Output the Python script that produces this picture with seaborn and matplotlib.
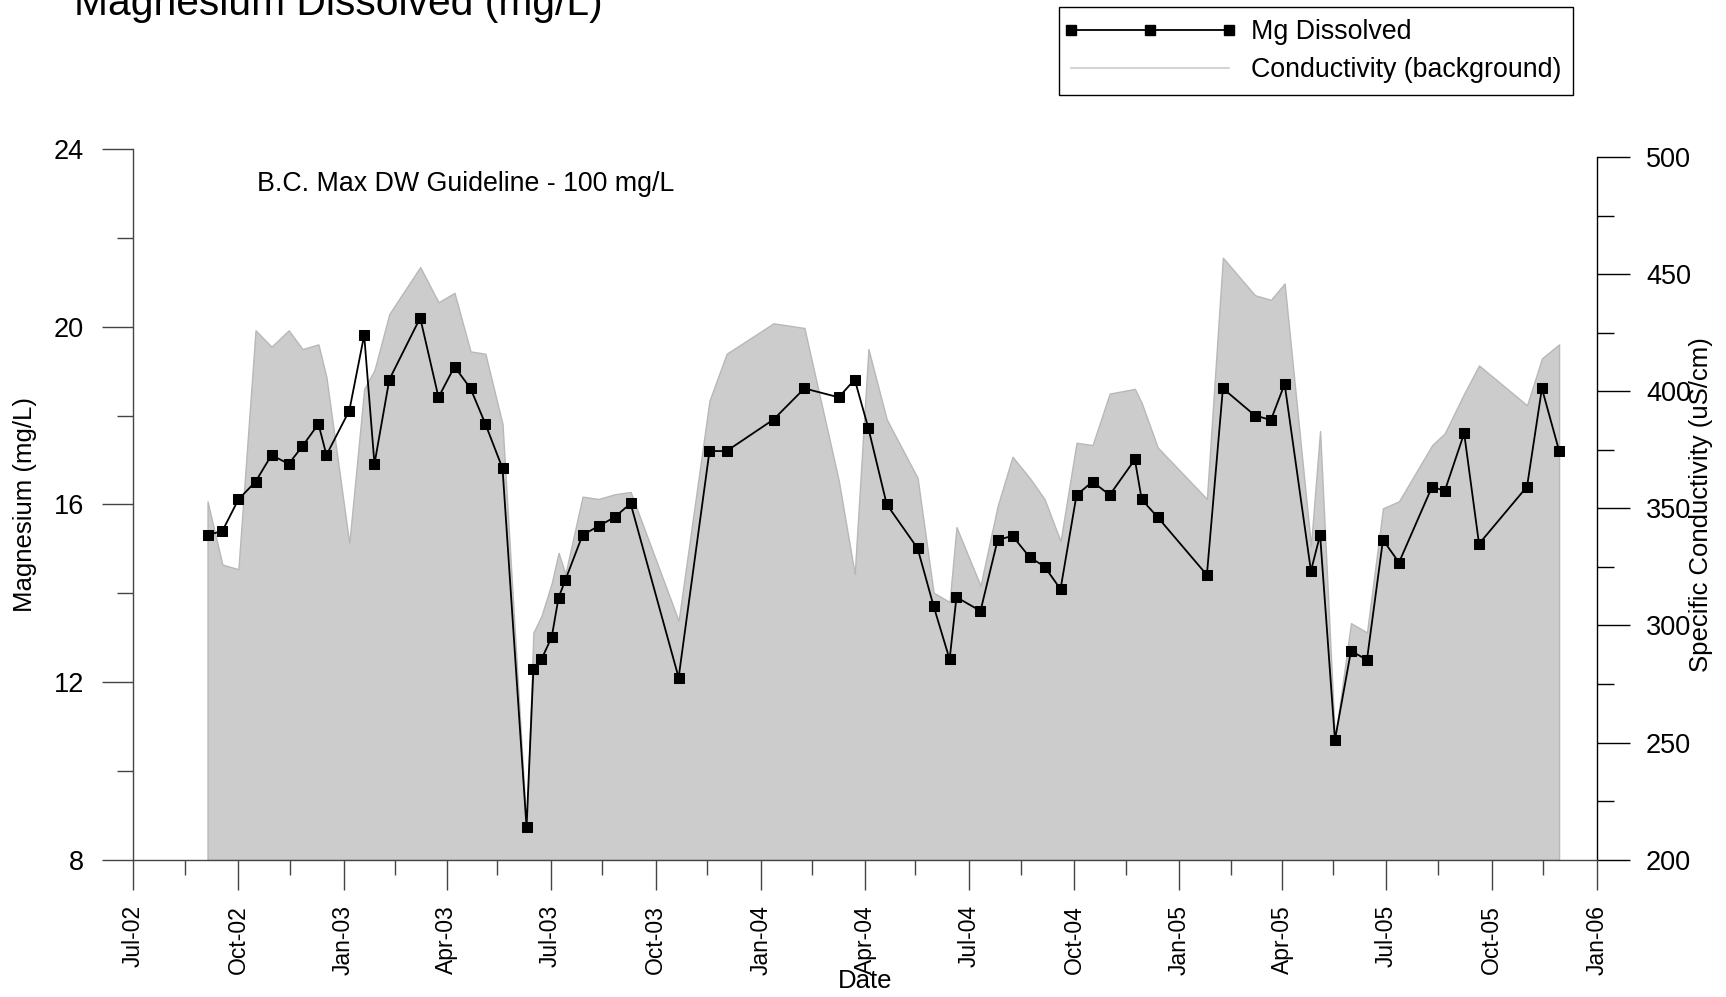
import matplotlib
matplotlib.use("Agg")
import matplotlib.pyplot as plt
import matplotlib.dates as mdates
from matplotlib.lines import Line2D
from matplotlib.legend_handler import HandlerLine2D
from matplotlib.ticker import MultipleLocator
import pandas as pd
import seaborn as sns

# ---------------------------------------------------------------
# Data
# ---------------------------------------------------------------
sample_dates = [
    "2002-09-04", "2002-09-17", "2002-10-01", "2002-10-16", "2002-10-30",
    "2002-11-14", "2002-11-26", "2002-12-10", "2002-12-17", "2003-01-06",
    "2003-01-19", "2003-01-28", "2003-02-10", "2003-03-09", "2003-03-25",
    "2003-04-08", "2003-04-22", "2003-05-05", "2003-05-20", "2003-06-10",
    "2003-06-16", "2003-06-23", "2003-07-02", "2003-07-08", "2003-07-14",
    "2003-07-29", "2003-08-12", "2003-08-26", "2003-09-09", "2003-10-21",
    "2003-11-17", "2003-12-02", "2004-01-12", "2004-02-08", "2004-03-09",
    "2004-03-23", "2004-04-04", "2004-04-20", "2004-05-17", "2004-05-31",
    "2004-06-14", "2004-06-20", "2004-07-11", "2004-07-26", "2004-08-08",
    "2004-08-23", "2004-09-05", "2004-09-19", "2004-10-03", "2004-10-17",
    "2004-11-01", "2004-11-23", "2004-11-29", "2004-12-13", "2005-01-25",
    "2005-02-08", "2005-03-08", "2005-03-22", "2005-04-03", "2005-04-26",
    "2005-05-04", "2005-05-17", "2005-05-31", "2005-06-14", "2005-06-28",
    "2005-07-12", "2005-08-10", "2005-08-21", "2005-09-07", "2005-09-20",
    "2005-11-01", "2005-11-14", "2005-11-29",
]

mg_dissolved = [
    15.31, 15.40, 16.11, 16.51, 17.11, 16.91, 17.31, 17.81, 17.11, 18.11,
    19.81, 16.91, 18.81, 20.20, 18.41, 19.10, 18.61, 17.81, 16.81, 8.73,
    12.29, 12.51, 13.01, 13.90, 14.30, 15.31, 15.51, 15.71, 16.02, 12.10,
    17.20, 17.20, 17.91, 18.61, 18.41, 18.81, 17.71, 16.00, 15.01, 13.71,
    12.51, 13.91, 13.60, 15.20, 15.29, 14.81, 14.60, 14.09, 16.21, 16.51,
    16.21, 17.01, 16.11, 15.71, 14.41, 18.61, 18.00, 17.90, 18.71, 14.50,
    15.31, 10.70, 12.70, 12.50, 15.20, 14.69, 16.40, 16.30, 17.60, 15.11,
    16.40, 18.61, 17.21,
]

conductivity = [
    353, 326, 324, 426, 419, 426, 418, 420, 406, 335,
    401, 409, 433, 453, 438, 442, 417, 416, 386, 213,
    297, 304, 318, 331, 322, 355, 354, 356, 357, 302,
    396, 416, 429, 427, 362, 322, 418, 388, 363, 314,
    310, 342, 317, 351, 372, 363, 354, 336, 378, 377,
    399, 401, 395, 376, 354, 457, 441, 439, 446, 334,
    383, 251, 301, 297, 350, 353, 377, 382, 399, 411,
    394, 414, 420,
]

df = pd.DataFrame({
    "date": pd.to_datetime(sample_dates),
    "mg": mg_dissolved,
    "cond": conductivity,
})

# ---------------------------------------------------------------
# Style
# ---------------------------------------------------------------
sns.set_theme(style="white")
plt.rcParams["font.family"] = ["Liberation Sans", "DejaVu Sans"]
plt.rcParams["text.color"] = "black"
plt.rcParams["axes.labelcolor"] = "black"
plt.rcParams["xtick.color"] = "black"
plt.rcParams["ytick.color"] = "black"

W, H = 1726, 997
ax_l, ax_r, ax_t, ax_b = 133.2, 1596.8, 149.0, 859.7

fig = plt.figure(figsize=(W / 100, H / 100), dpi=100)
ax = fig.add_axes([ax_l / W, 1 - ax_b / H, (ax_r - ax_l) / W, (ax_b - ax_t) / H])
ax2 = ax.twinx()

# conductivity background area (right axis)
ax2.fill_between(df["date"], 200, df["cond"], facecolor="#cccccc",
                 edgecolor="#b8b8b8", linewidth=1.0)

# magnesium line (left axis), drawn on top
sns.lineplot(data=df, x="date", y="mg", ax=ax, color="black", marker="s",
             markersize=6.5, markeredgecolor="black", linewidth=1.3,
             legend=False)
ax.set_zorder(ax2.get_zorder() + 1)
ax.patch.set_visible(False)

# ---------------------------------------------------------------
# Axes, ticks
# ---------------------------------------------------------------
ax.set_xlim(pd.Timestamp("2002-07-01"), pd.Timestamp("2006-01-01"))
ax.set_ylim(8, 24)
ax2.set_ylim(200, 200 + 300 * (ax_b - ax_t) / (ax_b - 157.0))

ax.xaxis.set_major_locator(mdates.MonthLocator(bymonth=[1, 4, 7, 10]))
ax.xaxis.set_major_formatter(mdates.DateFormatter("%b-%y"))
ax.xaxis.set_minor_locator(mdates.MonthLocator(bymonth=[2, 5, 8, 11], bymonthday=15))
ax.yaxis.set_major_locator(MultipleLocator(4))
ax.yaxis.set_minor_locator(MultipleLocator(2))
ax2.yaxis.set_major_locator(MultipleLocator(50))
ax2.yaxis.set_minor_locator(MultipleLocator(25))

axis_grey = "#444444"
ax.tick_params(axis="x", which="major", bottom=True, direction="out", length=21.6,
               width=1, color=axis_grey, labelsize=16.5, pad=11, labelrotation=90)
ax.tick_params(axis="x", which="minor", bottom=True, direction="out", length=10.8,
               width=1, color=axis_grey)
ax.tick_params(axis="y", which="major", left=True, direction="out", length=22.3,
               width=1, color=axis_grey, labelsize=19.5, pad=13)
ax.tick_params(axis="y", which="minor", left=True, direction="out", length=11.5,
               width=1, color=axis_grey)
ax2.tick_params(axis="y", which="major", right=True, direction="out", length=23.5,
                width=1, color="black", labelsize=19.5, pad=12)
ax2.tick_params(axis="y", which="minor", right=True, direction="out", length=12,
                width=1, color="black")

for name in ["top", "right"]:
    ax.spines[name].set_visible(False)
for name in ["top", "left", "bottom"]:
    ax2.spines[name].set_visible(False)
for name in ["left", "bottom"]:
    ax.spines[name].set_color(axis_grey)
    ax.spines[name].set_linewidth(1)
ax2.spines["right"].set_color("black")
ax2.spines["right"].set_linewidth(1)
ax2.spines["right"].set_bounds(200, 500)

# ---------------------------------------------------------------
# Labels, annotations
# ---------------------------------------------------------------
ax.set_ylabel("Magnesium (mg/L)", fontsize=18.5, va="center")
ax.yaxis.set_label_coords((25 - ax_l) / (ax_r - ax_l), 0.5)
ax2.set_ylabel("Specific Conductivity (uS/cm)", fontsize=18.5, va="center", rotation=90)
ax2.yaxis.set_label_coords((1701 - ax_l) / (ax_r - ax_l), 0.5)
ax.set_xlabel("Date", fontsize=18.5, va="baseline")
ax.xaxis.set_label_coords(0.5, (ax_b - 988) / (ax_b - ax_t))

fig.text(74 / W, 1 - 15 / H, "Magnesium Dissolved (mg/L)", fontsize=29.3,
         ha="left", va="baseline")
ax.text((257 - ax_l) / (ax_r - ax_l), (ax_b - 191) / (ax_b - ax_t),
        "B.C. Max DW Guideline - 100 mg/L", transform=ax.transAxes,
        fontsize=19.3, ha="left", va="baseline")

h_mg = Line2D([], [], color="black", marker="s", markersize=6.5, linewidth=1.3)
h_cond = Line2D([], [], color="#d4d4d4", linewidth=1.5)
leg = fig.legend([h_mg, h_cond], ["Mg Dissolved", "Conductivity (background)"],
                 loc="upper left", bbox_to_anchor=(1059 / W, 1 - 7 / H),
                 bbox_transform=fig.transFigure, borderaxespad=0, frameon=True,
                 fancybox=False, edgecolor="black", framealpha=1, fontsize=19.3,
                 handlelength=5.9, handletextpad=0.8, borderpad=0.45,
                 labelspacing=0.45,
                 handler_map={Line2D: HandlerLine2D(marker_pad=0, numpoints=3)})
leg.get_frame().set_linewidth(1.0)

fig.savefig("out.png", dpi=100)
